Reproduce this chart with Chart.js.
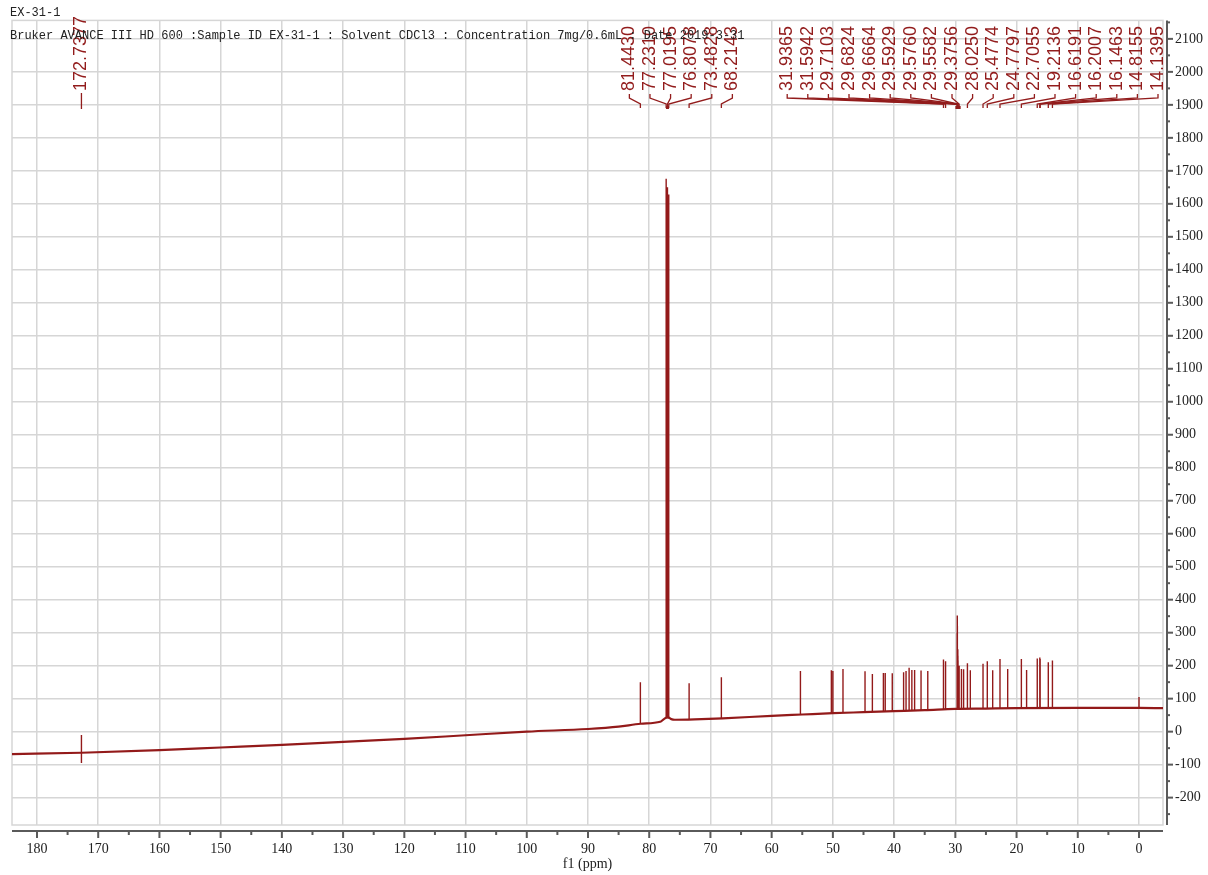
<!DOCTYPE html>
<html><head><meta charset="utf-8">
<script src="https://cdn.jsdelivr.net/npm/chart.js@4.4.1/dist/chart.umd.min.js"></script>
<style>
html,body{margin:0;padding:0;background:#fff;}
#wrap{position:relative;width:1208px;height:875px;}
.hdr{position:absolute;left:10px;font:12px "Liberation Mono",monospace;color:#222;white-space:pre;line-height:14px;}
</style></head><body>
<div id="wrap"><canvas id="c"></canvas>
<div class="hdr" id="h1" style="top:6px"></div><div class="hdr" id="h2" style="top:29px"></div></div>
<script>
// ---- text ----
const headerLines = ["EX-31-1", "Bruker AVANCE III HD 600 :Sample ID EX-31-1 : Solvent CDCl3 : Concentration 7mg/0.6mL : Date 2019-3-31"];
const axisTitleX = "f1 (ppm)";

// ---- ticks ----
const xTicks = [180,170,160,150,140,130,120,110,100,90,80,70,60,50,40,30,20,10,0];
const xMinorTicks = [175,165,155,145,135,125,115,105,95,85,75,65,55,45,35,25,15,5];
const yTicks = [-200,-100,0,100,200,300,400,500,600,700,800,900,1000,1100,1200,1300,1400,1500,1600,1700,1800,1900,2000,2100];
const yMinorTicks = [-250,-150,-50,50,150,250,350,450,550,650,750,850,950,1050,1150,1250,1350,1450,1550,1650,1750,1850,1950,2050,2150];

// ---- baseline (ppm, intensity) ----
const baselinePpm = [184.08, 172.74, 160, 150, 140, 130, 120, 110, 100, 90, 85, 81.4, 78.2, 77.6, 77.0, 76.4, 75.8, 72.6, 68, 60, 55, 50, 45, 40, 35, 30, 25, 20, 10, 0, -3.92];
const baselineVal = [-68, -64, -56, -48, -40, -31, -22, -11, 0, 8, 15, 24, 30, 38, 44, 38, 36, 37, 40, 48, 52, 56, 59, 62, 65, 69, 70, 71, 72, 72, 71];

// ---- peaks (ppm, foot, top) ----
const peakPpm  = [172.7377, 81.4430, 77.2310, 77.0195, 76.8078, 73.4828, 68.2143, 55.30, 50.25, 50.00, 48.35, 44.75, 43.55, 41.75, 41.45, 40.30, 38.45, 38.05, 37.55, 37.10, 36.65, 35.60, 34.50, 31.9365, 31.5942, 29.7103, 29.6824, 29.6664, 29.5929, 29.5760, 29.5582, 29.3756, 29.00, 28.65, 28.0250, 27.55, 25.4774, 24.7797, 23.90, 22.7055, 21.45, 19.2136, 18.36, 16.6191, 16.2007, 16.1463, 14.8155, 14.1395, 0.00];
const peakBase = [-95, 24, 40, 40, 40, 36, 40, 52, 56, 56, 57, 59, 60, 61, 61, 62, 63, 63, 63, 64, 64, 65, 66, 68, 68, 69, 69, 69, 69, 69, 69, 69, 69, 69, 69, 69, 70, 70, 70, 70, 71, 71, 71, 71, 71, 71, 71, 71, 72];
const peakTop  = [-10, 150, 1676, 1650, 1628, 147, 165, 184, 186, 184, 190, 183, 175, 178, 178, 177, 180, 184, 194, 187, 187, 185, 184, 219, 213, 300, 352, 320, 250, 230, 216, 200, 190, 189, 207, 186, 206, 213, 186, 220, 190, 220, 187, 222, 225, 220, 210, 216, 105];

// ---- labelled peaks ----
const labelPpm = [172.7377, 81.4430, 77.2310, 77.0195, 76.8078, 73.4828, 68.2143, 31.9365, 31.5942, 29.7103, 29.6824, 29.6664, 29.5929, 29.5760, 29.5582, 29.3756, 28.0250, 25.4774, 24.7797, 22.7055, 19.2136, 16.6191, 16.2007, 16.1463, 14.8155, 14.1395];

document.getElementById('h1').textContent = headerLines[0];
document.getElementById('h2').textContent = headerLines[1];

const spectrumColor = '#931a1a';
const labelColor = '#921c1c';
const gridColor = '#d6d6d6';
const axisColor = '#5a5a5a';

const baselineData = baselinePpm.map((p, i) => ({x: p, y: baselineVal[i]}));
const peakData = [];
peakPpm.forEach((p, i) => { peakData.push({x: p, y: peakBase[i]}, {x: p, y: peakTop[i]}, {x: p, y: null}); });

function seg(ctx, x1, y1, x2, y2){ ctx.beginPath(); ctx.moveTo(x1, y1); ctx.lineTo(x2, y2); ctx.stroke(); }

const decor = {
  id: 'decor',
  beforeDatasetsDraw(chart){
    const {ctx, chartArea: a} = chart;
    ctx.save(); ctx.strokeStyle = gridColor; ctx.lineWidth = 1.5;
    ctx.strokeRect(a.left, a.top, a.right - a.left, a.bottom - a.top);
    ctx.restore();
  },
  afterDraw(chart){
    const {ctx, chartArea: a, scales: {x, y}} = chart;
    ctx.save();
    ctx.strokeStyle = axisColor; ctx.lineWidth = 2;
    const ay = a.bottom + 6;
    seg(ctx, a.left, ay, a.right, ay);
    xTicks.forEach(v => { const px = x.getPixelForValue(v); seg(ctx, px, ay, px, ay + 7); });
    xMinorTicks.forEach(v => { const px = x.getPixelForValue(v); seg(ctx, px, ay, px, ay + 4); });
    const ax = a.right + 4;
    seg(ctx, ax, a.top, ax, a.bottom);
    yTicks.forEach(v => { const py = y.getPixelForValue(v); seg(ctx, ax, py, ax + 6, py); });
    yMinorTicks.forEach(v => { const py = y.getPixelForValue(v); seg(ctx, ax, py, ax + 3, py); });

    // peak labels: cluster and spread
    const gap = 20.6;
    const xs = labelPpm.map(p => x.getPixelForValue(p));
    let clusters = xs.map((px, i) => ({idx: [i], center: px}));
    let merged = true;
    while (merged) {
      merged = false;
      for (let i = 0; i < clusters.length - 1; i++) {
        const A = clusters[i], B = clusters[i + 1];
        const aR = A.center + (A.idx.length - 1) * gap / 2;
        const bL = B.center - (B.idx.length - 1) * gap / 2;
        if (bL - aR < gap) {
          const idx = A.idx.concat(B.idx);
          const pxs = idx.map(k => xs[k]);
          const c = (Math.min(...pxs) + Math.max(...pxs)) / 2;
          clusters.splice(i, 2, {idx, center: c});
          merged = true; break;
        }
      }
    }
    ctx.strokeStyle = labelColor; ctx.fillStyle = labelColor; ctx.lineWidth = 1.3;
    ctx.font = '18px "Liberation Sans", Arial, sans-serif';
    ctx.textAlign = 'left'; ctx.textBaseline = 'middle';
    clusters.forEach(cl => {
      const n = cl.idx.length;
      let left = cl.center - (n - 1) * gap / 2;
      const right = left + (n - 1) * gap;
      if (right > a.right - 5) left -= right - (a.right - 5);
      if (left < a.left + 5) left = a.left + 5;
      cl.idx.forEach((k, j) => {
        const lx = n === 1 ? xs[k] : left + j * gap;
        const px = xs[k];
        ctx.save(); ctx.translate(lx, 91); ctx.rotate(-Math.PI / 2);
        ctx.fillText(labelPpm[k].toFixed(4), 0, 0); ctx.restore();
        ctx.beginPath();
        if (n === 1) { ctx.moveTo(px, 93); ctx.lineTo(px, 109); }
        else { ctx.moveTo(lx, 94); ctx.lineTo(lx, 98); ctx.lineTo(px, 104); ctx.lineTo(px, 108); }
        ctx.stroke();
        const near = xs.filter((q, m) => m !== k && Math.abs(q - px) < 1.6).length;
        if (near >= 2) ctx.fillRect(px - 1.5, 106, 3, 3);
      });
    });
    ctx.restore();
  }
};

const serif = '"Liberation Serif", "Times New Roman", serif';
new Chart(document.getElementById('c'), {
  type: 'line',
  data: {
    datasets: [
      {data: peakData, borderColor: spectrumColor, borderWidth: 1.4, pointRadius: 0, spanGaps: false, tension: 0},
      {data: baselineData, borderColor: spectrumColor, borderWidth: 2.2, pointRadius: 0, cubicInterpolationMode: 'monotone'}
    ]
  },
  options: {
    responsive: true, maintainAspectRatio: false, animation: false,
    devicePixelRatio: 1,
    layout: {padding: {left: 12, top: 13, right: 0, bottom: 0}},
    plugins: {legend: {display: false}, tooltip: {enabled: false}},
    scales: {
      x: {
        type: 'linear', reverse: true, min: -3.92, max: 184.08, position: 'bottom',
        afterBuildTicks: s => { s.ticks = xTicks.map(v => ({value: v})); },
        afterFit: s => { s.height = 50; },
        grid: {color: gridColor, lineWidth: 1.5, drawTicks: false},
        border: {display: false},
        ticks: {padding: 16, color: '#222', autoSkip: false, maxRotation: 0, font: {family: serif, size: 14}, callback: v => String(v)},
        title: {display: true, text: axisTitleX, color: '#222', font: {family: serif, size: 14}, padding: {top: 0, bottom: 2}}
      },
      y: {
        type: 'linear', position: 'right', min: -283, max: 2156,
        afterBuildTicks: s => { s.ticks = yTicks.map(v => ({value: v})); },
        afterFit: s => { s.width = 45; },
        grid: {color: gridColor, lineWidth: 1.5, drawTicks: false},
        border: {display: false},
        ticks: {padding: 12, color: '#222', autoSkip: false, font: {family: serif, size: 14}, callback: v => String(v)}
      }
    }
  },
  plugins: [decor]
});
</script>
</body></html>
